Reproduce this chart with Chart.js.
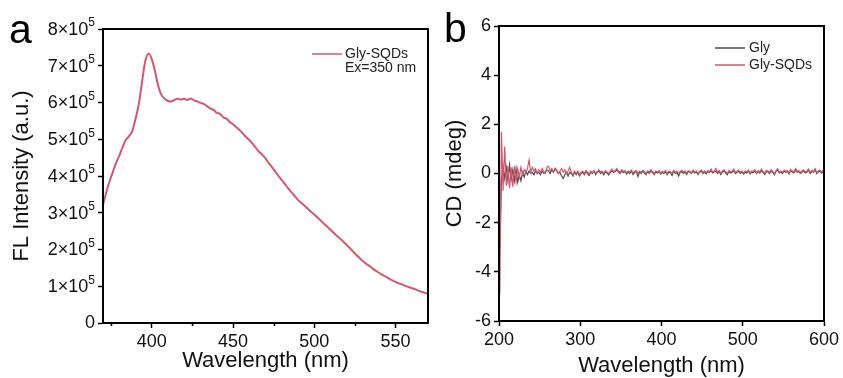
<!DOCTYPE html>
<html>
<head>
<meta charset="utf-8">
<script src="https://cdn.jsdelivr.net/npm/chart.js@4.4.1/dist/chart.umd.min.js"></script>
<style>
  html, body { margin: 0; padding: 0; background: #fff; }
  #wrap { position: relative; width: 843px; height: 378px; }
  .panel { position: absolute; top: 0; height: 378px; }
  #pa { left: 0; width: 440px; }
  #pb { left: 430px; width: 413px; }
</style>
</head>
<body>
<div id="wrap">
  <div class="panel" id="pa"><canvas id="flChart"></canvas></div>
  <div class="panel" id="pb"><canvas id="cdChart"></canvas></div>
</div>
<script>
// ---- panel a: fluorescence, Ex = 350 nm ----
const flWavelength = [
  370, 372, 374, 376, 378, 380, 382, 384, 386, 388,
  390, 392, 394, 396, 398, 400, 402, 404, 406, 408,
  410, 412, 414, 416, 418, 420, 422, 424, 426, 428,
  430, 432, 434, 436, 438, 440, 442, 444, 446, 448,
  450, 452, 454, 456, 458, 460, 462, 464, 466, 468,
  470, 472, 474, 476, 478, 480, 482, 484, 486, 488,
  490, 492, 494, 496, 498, 500, 502, 504, 506, 508,
  510, 512, 514, 516, 518, 520, 522, 524, 526, 528,
  530, 532, 534, 536, 538, 540, 542, 544, 546, 548,
  550, 552, 554, 556, 558, 560, 562, 564, 566, 568,
  570
];
const flGlySQDs = [
  321000, 355000, 385000, 410000, 435000, 455000, 478000, 498000, 508000, 522000,
  555000, 595000, 655000, 712000, 733000, 718000, 685000, 645000, 620000, 610000,
  604000, 603000, 607000, 610000, 608000, 610000, 607000, 611000, 606000, 603000,
  599000, 596000, 590000, 584000, 580000, 572000, 569000, 560000, 556000, 547000,
  541000, 533000, 525000, 516000, 506000, 498000, 488000, 477000, 466000, 458000,
  448000, 435000, 424000, 412000, 400000, 389000, 378000, 366000, 356000, 345000,
  335000, 327000, 319000, 311000, 303000, 295000, 287000, 279000, 270000, 262000,
  254000, 245000, 237000, 229000, 221000, 212000, 203000, 194000, 185000, 176000,
  168000, 161000, 155000, 148000, 142000, 136000, 131000, 126000, 121000, 116000,
  112000, 108000, 105000, 101000, 98000, 95000, 92000, 88000, 85000, 82000,
  79000
];
const flXTicks = [400, 450, 500, 550];
const flXMinor = [375, 425, 475, 525];
const flYTicks = [0, 100000, 200000, 300000, 400000, 500000, 600000, 700000, 800000];

// ---- panel b: circular dichroism, every 2 nm from 201 nm ----
const cdGly = [
  -3.0, -0.3, 0.3, -0.2, 0.25, -0.3, 0.35, -0.25, 0.15, -0.3,
  0.2, -0.35, -0.05, -0.3, 0.05, -0.15, 0.1, -0.05, 0.1, 0.0,
  0.05, -0.05, 0.1, 0.0, 0.05, -0.05, 0.1, 0.0, 0.05, 0.15,
  0.1, 0.0, 0.15, 0.05, 0.2, 0.1, 0.0, 0.05, -0.1, -0.2,
  -0.05, 0.05, -0.1, 0.05, 0.0, -0.1, 0.05, -0.05, 0.05, -0.1,
  0.0,
  0.05, -0.05, 0.08, 0.0, -0.08, 0.05, 0.0, 0.1, -0.05, 0.05,
  0.1, 0.0, 0.06, -0.05, 0.08, 0.02, -0.06, 0.05, 0.12, 0.04,
  0.08, 0.15, 0.06, 0.0, 0.1, 0.04, 0.08, -0.02, 0.06, 0.0,
  0.1, -0.04, 0.05, 0.08, -0.12, 0.05, 0.0, 0.1, 0.02, -0.05,
  0.08, 0.0, 0.1, 0.04, -0.05, 0.06, 0.02, 0.08, -0.02, 0.05,
  0.0, 0.08, -0.05, 0.06, 0.02, -0.08, 0.1, 0.0, 0.05, -0.1,
  0.04, 0.08, 0.0, 0.06, -0.04, 0.08, 0.05, 0.0, 0.1, 0.02,
  0.06, -0.05, 0.05, 0.1, 0.0, 0.06, -0.02, 0.08, 0.04, 0.12,
  0.02, 0.06, 0.1, 0.0, 0.08, -0.04, 0.06, 0.1, 0.02, -0.05,
  0.08, 0.02, 0.06, 0.12, 0.0, 0.05, 0.08, 0.0, 0.06, -0.02,
  0.06, 0.02, 0.1, -0.02, 0.06, 0.04, 0.1, 0.0, 0.08, 0.02,
  0.12, 0.05, -0.04, 0.08, 0.06, 0.0, 0.1, 0.04, -0.05, 0.08,
  0.15, 0.02, 0.06, 0.0, 0.1, 0.05, 0.08, -0.02, 0.12, 0.06,
  0.02, 0.15, 0.05, 0.08, 0.0, 0.06, 0.1, 0.02, 0.06, 0.14,
  0.0, 0.08, 0.05, 0.16, 0.0, 0.06, 0.1, 0.02, 0.08, 0.04
];
const cdGlySQDs = [
  -4.9, 1.7, -0.7, 1.1, -0.5, 0.3, -0.6, 0.25, -0.55, 0.3,
  -0.35, 0.2, -0.15, 0.25, -0.05, 0.15, 0.05, 0.2, 0.55, 0.05,
  0.25, 0.1, 0.2, 0.0, 0.15, 0.05, 0.2, 0.1, 0.0, 0.25,
  0.3, 0.1, 0.2, 0.05, 0.2, 0.15, 0.0, 0.1, 0.2, 0.05,
  0.15, 0.0, 0.1, 0.25, 0.05, -0.05, 0.1, 0.0, 0.1, -0.05,
  0.05,
  0.1, 0.0, 0.12, 0.05, -0.02, 0.1, 0.03, 0.12, 0.0, 0.08,
  0.15, 0.05, 0.1, 0.02, 0.12, 0.06, 0.0, 0.1, 0.18, 0.08,
  0.12, 0.2, 0.1, 0.05, 0.15, 0.08, 0.12, 0.03, 0.1, 0.06,
  0.14, 0.02, 0.09, 0.12, 0.0, 0.1, 0.05, 0.13, 0.07, 0.02,
  0.11, 0.05, 0.15, 0.08, 0.0, 0.1, 0.06, 0.12, 0.03, 0.09,
  0.05, 0.12, 0.0, 0.1, 0.07, 0.02, 0.12, 0.05, 0.1, 0.0,
  0.08, 0.13, 0.06, 0.1, 0.02, 0.12, 0.08, 0.04, 0.14, 0.06,
  0.1, 0.0, 0.09, 0.15, 0.05, 0.1, 0.03, 0.12, 0.07, 0.18,
  0.06, 0.1, 0.2, 0.05, 0.12, 0.02, 0.1, 0.15, 0.07, 0.0,
  0.12, 0.06, 0.1, 0.18, 0.04, 0.1, 0.13, 0.05, 0.1, 0.02,
  0.1, 0.06, 0.14, 0.02, 0.1, 0.08, 0.15, 0.04, 0.12, 0.06,
  0.18, 0.08, 0.02, 0.12, 0.1, 0.05, 0.15, 0.08, 0.0, 0.12,
  0.2, 0.06, 0.1, 0.04, 0.14, 0.08, 0.12, 0.02, 0.16, 0.1,
  0.06, 0.2, 0.08, 0.12, 0.04, 0.1, 0.15, 0.06, 0.1, 0.18,
  0.05, 0.12, 0.08, 0.2, 0.04, 0.1, 0.14, 0.06, 0.12, 0.08
];
const cdWavelength = cdGlySQDs.map((_, i) => 201 + 2 * i);
const cdXTicks = [200, 300, 400, 500, 600];
const cdYTicks = [-6, -4, -2, 0, 2, 4, 6];

const RED = '#d6566f';
const GRAY = '#4d4d4d';
const FONT = "'Liberation Sans', Arial, sans-serif";

Chart.defaults.font.family = FONT;
Chart.defaults.color = '#111';

function pts(xs, ys) {
  return xs.map((x, i) => ({ x: x, y: ys[i] }));
}

// marco, ticks menores, etiquetas con exponente, letra del panel y leyenda
const decor = {
  id: 'decor',
  afterDraw(chart, args, opts) {
    const ctx = chart.ctx;
    const a = chart.chartArea;
    ctx.save();
    ctx.strokeStyle = '#000';
    ctx.lineWidth = 2;
    ctx.strokeRect(a.left, a.top, a.right - a.left, a.bottom - a.top);

    if (opts.minor) {
      const sx = chart.scales.x;
      ctx.lineWidth = 1.5;
      opts.minor.forEach(v => {
        const px = Math.round(sx.getPixelForValue(v)) + 0.5;
        ctx.beginPath();
        ctx.moveTo(px, a.bottom);
        ctx.lineTo(px, a.bottom + 3);
        ctx.stroke();
      });
    }

    if (opts.sci) {
      const sy = chart.scales.y;
      const xr = a.left - 8;
      ctx.fillStyle = '#111';
      ctx.textAlign = 'right';
      ctx.textBaseline = 'middle';
      opts.sci.ticks.forEach(v => {
        const py = sy.getPixelForValue(v);
        if (v === 0) {
          ctx.font = '18px ' + FONT;
          ctx.fillText('0', xr, py);
          return;
        }
        ctx.font = '12px ' + FONT;
        const sup = String(opts.sci.exp);
        const w = ctx.measureText(sup).width;
        ctx.fillText(sup, xr, py - 6);
        ctx.font = '18px ' + FONT;
        ctx.fillText((v / Math.pow(10, opts.sci.exp)) + '×10', xr - w, py + 1);
      });
      ctx.textAlign = 'left';
    }

    ctx.fillStyle = '#000';
    ctx.font = '41px ' + FONT;
    ctx.textBaseline = 'alphabetic';
    ctx.fillText(opts.letter.text, opts.letter.x, opts.letter.y);

    ctx.font = '14px ' + FONT;
    ctx.textBaseline = 'middle';
    opts.legend.forEach(item => {
      if (item.color) {
        ctx.strokeStyle = item.color;
        ctx.lineWidth = 1.5;
        ctx.beginPath();
        ctx.moveTo(item.x0, item.y);
        ctx.lineTo(item.x1, item.y);
        ctx.stroke();
      }
      ctx.fillStyle = '#222';
      ctx.fillText(item.text, item.tx, item.y);
    });
    ctx.restore();
  }
};

function axisX(min, max, ticks, height, titlePad) {
  return {
    type: 'linear', min: min, max: max,
    afterBuildTicks: s => { s.ticks = ticks.map(v => ({ value: v })); },
    afterFit: s => { s.height = height; },
    grid: { drawOnChartArea: false, tickLength: 5, tickColor: '#000', tickWidth: 1.5 },
    border: { color: '#000', width: 2 },
    ticks: { font: { size: 18 }, padding: 3, maxRotation: 0, color: '#111' },
    title: { display: true, text: 'Wavelength (nm)', font: { size: 22 }, padding: { top: 0, bottom: titlePad }, color: '#111' }
  };
}

function axisY(min, max, ticks, width, title, titlePad, fmt) {
  return {
    min: min, max: max,
    afterBuildTicks: s => { s.ticks = ticks.map(v => ({ value: v })); },
    afterFit: s => { s.width = width; },
    grid: { drawOnChartArea: false, tickLength: 5, tickColor: '#000', tickWidth: 1.5 },
    border: { color: '#000', width: 2 },
    ticks: { font: { size: 18 }, padding: 3, color: '#111', callback: fmt },
    title: { display: true, text: title, font: { size: 22 }, padding: { top: titlePad, bottom: 0 }, color: '#111' }
  };
}

new Chart(document.getElementById('flChart'), {
  type: 'line',
  data: {
    datasets: [{
      label: 'Gly-SQDs',
      data: pts(flWavelength, flGlySQDs),
      borderColor: RED, borderWidth: 2, pointRadius: 0, tension: 0.3
    }]
  },
  options: {
    responsive: true, maintainAspectRatio: false, animation: false,
    layout: { padding: { top: 29, right: 12, left: 0, bottom: 0 } },
    plugins: {
      legend: { display: false }, tooltip: { enabled: false },
      decor: {
        minor: flXMinor,
        sci: { ticks: flYTicks, exp: 5 },
        letter: { text: 'a', x: 9, y: 43 },
        legend: [
          { color: RED, x0: 312, x1: 342, y: 54, tx: 345, text: 'Gly-SQDs' },
          { y: 68, tx: 345, text: 'Ex=350 nm' }
        ]
      }
    },
    scales: {
      x: axisX(370, 570, flXTicks, 55, 4),
      y: axisY(0, 800000, flYTicks, 103, 'FL Intensity (a.u.)', 9, () => '')
    }
  },
  plugins: [decor]
});

new Chart(document.getElementById('cdChart'), {
  type: 'line',
  data: {
    datasets: [
      { label: 'Gly-SQDs', data: pts(cdWavelength, cdGlySQDs), borderColor: RED, borderWidth: 1.2, pointRadius: 0 },
      { label: 'Gly', data: pts(cdWavelength, cdGly), borderColor: GRAY, borderWidth: 1.2, pointRadius: 0 }
    ]
  },
  options: {
    responsive: true, maintainAspectRatio: false, animation: false,
    layout: { padding: { top: 26, right: 19, left: 0, bottom: 0 } },
    plugins: {
      legend: { display: false }, tooltip: { enabled: false },
      decor: {
        letter: { text: 'b', x: 14, y: 42 },
        legend: [
          { color: GRAY, x0: 285, x1: 315, y: 48, tx: 319, text: 'Gly' },
          { color: RED, x0: 285, x1: 315, y: 65, tx: 319, text: 'Gly-SQDs' }
        ]
      }
    },
    scales: {
      x: axisX(200, 600, cdXTicks, 57, -1),
      y: axisY(-6, 6, cdYTicks, 69, 'CD (mdeg)', 12, v => String(v))
    }
  },
  plugins: [decor]
});
</script>
</body>
</html>
